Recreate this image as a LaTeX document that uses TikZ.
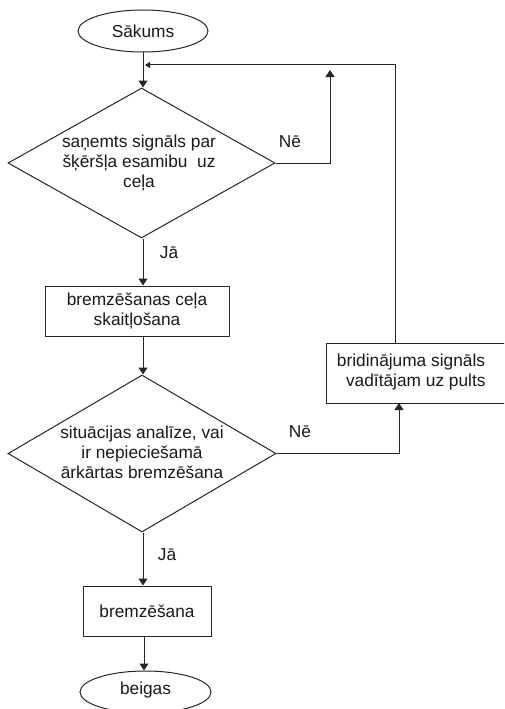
\documentclass[tikz,border=0pt]{standalone}
\usepackage{fontspec}
\setmainfont{Liberation Sans}
\usetikzlibrary{shapes.geometric,arrows.meta,calc}
\begin{document}
\begin{tikzpicture}[x=1pt,y=-1pt,
  every node/.style={font=\fontsize{17.3}{20}\selectfont, inner sep=0pt},
  ln/.style={draw=black!85, line width=1pt},
  arr/.style={ln, -{Triangle[width=9pt,length=7pt]}},
  sarr/.style={ln, -{Triangle[width=6pt,length=5pt]}},
  term/.style={ellipse, ln, minimum width=#1, minimum height=42},
  dec/.style={diamond, ln, inner sep=0pt},
  proc/.style={rectangle, ln},
  txt/.style={align=center, text=black!90}]
\useasboundingbox (0,0) rectangle (504,709);
\clip (0,0) rectangle (504,709);
% nodes
\node[term=130] (e1) at (143,31) {};
\node[txt] (e1t) at (e1) {Sākums};
\node[dec, minimum width=267, minimum height=150] (d1) at (141.5,163) {};
\node[txt] (d1t) at (139,163) {saņemts signāls par\\šķēršļa esamibu\ \ uz\\ceļa};
\node[proc, minimum width=184, minimum height=50] (b1) at (137,311) {};
\node[txt] (b1t) at (b1) {bremzēšanas ceļa\\skaitļošana};
\node[dec, minimum width=268, minimum height=157] (d2) at (142,453.5) {};
\node[txt] (d2t) at (142,452) {situācijas analīze, vai\\ir nepieciešamā\\ārkārtas bremzēšana};
\node[proc, minimum width=184, minimum height=60] (b2) at (418,373) {};
\node[txt] (b2t) at (411,372) {bridinājuma signāls\\\ \ vadītājam uz pults};
\node[proc, minimum width=128, minimum height=50] (b3) at (147,611) {};
\node[txt] (b3t) at (b3) {bremzēšana};
\node[term=131] (e2) at (145.5,692) {};
\node[txt] (e2t) at (145.5,690) {beigas};
% labels
\node[txt] (n1) at (290,142) {Nē};
\node[txt] (j1) at (169,253) {Jā};
\node[txt] (n2) at (300,432) {Nē};
\node[txt] (j2) at (167,555) {Jā};
% coordinates
\coordinate (loopend) at (145,65);
\coordinate (n1end) at (330,70);
\coordinate (b2top) at (395,343);
\coordinate (b2bot) at (399,403);
% connectors
\draw[arr] (e1.south -| 143,0) -- (d1.north -| 143,0);
\draw[sarr] (b2top) |- (loopend);
\draw[arr] (d1.east) -| (n1end);
\draw[arr] (d1.south -| 143,0) -- (b1.north -| 143,0);
\draw[arr] (b1.south -| 143,0) -- (d2.north -| 143,0);
\draw[arr] (d2.east) -| (b2bot);
\draw[arr] (d2.south -| 143,0) -- (b3.north -| 143,0);
\draw[arr] (b3.south -| 144,0) -- (e2.north -| 144,0);
\end{tikzpicture}
\end{document}
